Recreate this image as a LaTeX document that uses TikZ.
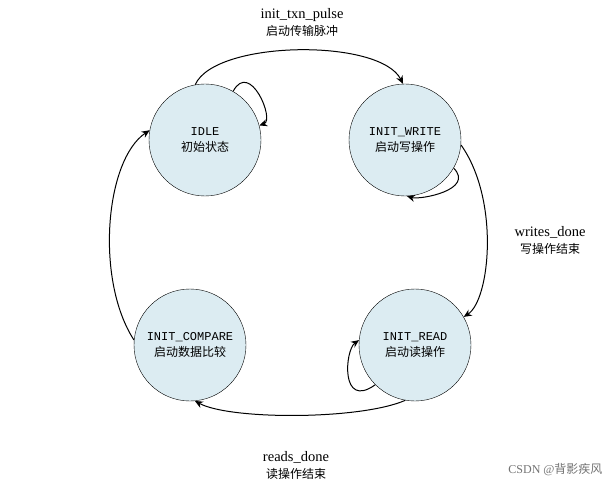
\documentclass[tikz,border=0pt]{standalone}
\usepackage{fontspec}
\setmainfont{Liberation Serif}
\newfontfamily\cjk{Noto Sans CJK SC}
\newfontfamily\mono{Liberation Mono}
\usetikzlibrary{arrows.meta}
\begin{document}
\begin{tikzpicture}[x=1pt,y=-1pt,
  st/.style={circle,draw,minimum size=112pt,inner sep=0pt,align=center,font=\fontsize{12}{16}\selectfont},
  ar/.style={-{Stealth[length=8pt,width=7pt]},line width=1pt},
  lb/.style={align=center,font=\fontsize{14.5}{17}\selectfont}]
\useasboundingbox (0,0) rectangle (613,489);
\definecolor{stfill}{RGB}{220,236,242}
\tikzset{st/.append style={fill=stfill}}
\node[st] (idle) at (205,140) {{\mono IDLE}\\{\cjk 初始状态}};
\node[st] (wr) at (405,140) {{\mono INIT\_WRITE}\\{\cjk 启动写操作}};
\node[st] (rd) at (415,345) {{\mono INIT\_READ}\\{\cjk 启动读操作}};
\node[st] (cmp) at (190,345) {{\mono INIT\_COMPARE}\\{\cjk 启动数据比较}};
\draw[ar] (idle.100) .. controls (215,40) and (380,38) .. (wr.92);
\draw[ar] (wr.-5) .. controls (500,200) and (490,300) .. (rd.30);
\draw[ar] (rd.-100) .. controls (360,420) and (230,420) .. (cmp.-85);
\draw[ar] (cmp.175) .. controls (95,280) and (105,160) .. (idle.170);
\draw[ar] (idle.60) .. controls (250,60) and (275,120) .. (idle.15);
\draw[ar] (wr.-30) .. controls (475,190) and (420,200) .. (wr.-88);
\draw[ar] (rd.-135) .. controls (340,410) and (345,350) .. (rd.175);
\node[lb] (l1) at (302,22) {init\_txn\_pulse\\{\cjk\fontsize{12}{15}\selectfont 启动传输脉冲}};
\node[lb] (l2) at (550,240) {writes\_done\\{\cjk\fontsize{12}{15}\selectfont 写操作结束}};
\node[lb] (l3) at (296,465) {reads\_done\\{\cjk\fontsize{12}{15}\selectfont 读操作结束}};
\node[font=\fontsize{12}{14}\selectfont,text=black!55,anchor=east] (wm) at (606,470) {CSDN @{\cjk 背影疾风}};
\end{tikzpicture}
\end{document}
